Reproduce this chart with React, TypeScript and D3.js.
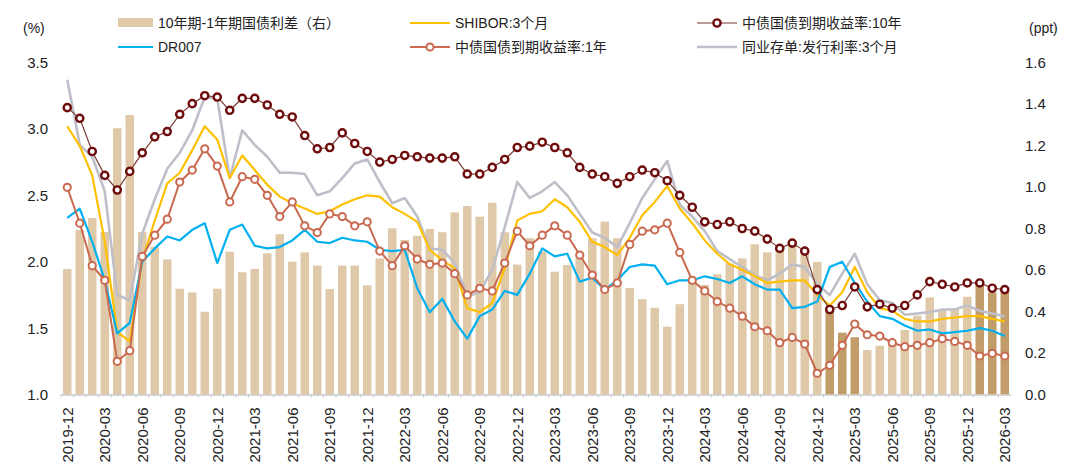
import * as d3 from 'd3';

const months = [
  '2019-12',
  '2020-01', '2020-02', '2020-03', '2020-04', '2020-05', '2020-06', '2020-07', '2020-08', '2020-09', '2020-10', '2020-11', '2020-12',
  '2021-01', '2021-02', '2021-03', '2021-04', '2021-05', '2021-06', '2021-07', '2021-08', '2021-09', '2021-10', '2021-11', '2021-12',
  '2022-01', '2022-02', '2022-03', '2022-04', '2022-05', '2022-06', '2022-07', '2022-08', '2022-09', '2022-10', '2022-11', '2022-12',
  '2023-01', '2023-02', '2023-03', '2023-04', '2023-05', '2023-06', '2023-07', '2023-08', '2023-09', '2023-10', '2023-11', '2023-12',
  '2024-01', '2024-02', '2024-03', '2024-04', '2024-05', '2024-06', '2024-07', '2024-08', '2024-09', '2024-10', '2024-11', '2024-12',
  '2025-01', '2025-02', '2025-03', '2025-04', '2025-05', '2025-06', '2025-07', '2025-08', '2025-09', '2025-10', '2025-11', '2025-12',
  '2026-01', '2026-02', '2026-03',
];

// 10年期-1年期国债利差（右）, ppt
const spread = [
  0.605,
  0.793, 0.851, 0.783, 1.283, 1.347, 0.783, 0.712, 0.651, 0.51, 0.492, 0.399, 0.51,
  0.688, 0.589, 0.605, 0.68, 0.772, 0.64, 0.685, 0.621, 0.508, 0.621, 0.621, 0.526,
  0.656, 0.801, 0.745, 0.765, 0.798, 0.782, 0.878, 0.908, 0.857, 0.924, 0.782, 0.626,
  0.753, 0.69, 0.592, 0.624, 0.66, 0.753, 0.833, 0.753, 0.513, 0.459, 0.418, 0.327,
  0.435, 0.544, 0.528, 0.579, 0.632, 0.656, 0.724, 0.685, 0.696, 0.72, 0.68, 0.639,
  0.407, 0.298, 0.276, 0.214, 0.235, 0.265, 0.311, 0.38, 0.468, 0.407, 0.415, 0.471,
  0.544, 0.491, 0.512,
];

const shibor3m = [
  3.02,
  2.87, 2.65, 2.15, 1.47, 1.4, 2.01, 2.31, 2.59, 2.67, 2.84, 3.02, 2.92,
  2.63, 2.8, 2.69, 2.58, 2.49, 2.44, 2.4, 2.36, 2.38, 2.43, 2.47, 2.5,
  2.49, 2.41, 2.36, 2.3, 2.09, 2.01, 1.95, 1.65, 1.62, 1.69, 1.95, 2.31,
  2.36, 2.38, 2.47, 2.41, 2.3, 2.15, 2.11, 2.05, 2.18, 2.35, 2.45, 2.57,
  2.4, 2.29, 2.16, 2.06, 1.98, 1.94, 1.89, 1.84, 1.85, 1.86, 1.86, 1.75,
  1.67, 1.77, 1.96, 1.77, 1.65, 1.63, 1.57, 1.55, 1.55, 1.57, 1.58, 1.59,
  1.59, 1.57, 1.55,
];

const dr007 = [
  2.33,
  2.4, 2.15, 1.86, 1.46, 1.54, 2.0, 2.1, 2.19, 2.16, 2.24, 2.29, 1.99,
  2.24, 2.28, 2.12, 2.1, 2.11, 2.16, 2.24, 2.15, 2.14, 2.18, 2.16, 2.15,
  2.09, 2.08, 2.09, 1.8, 1.62, 1.72, 1.55, 1.42, 1.59, 1.64, 1.78, 1.75,
  1.91, 2.1, 2.04, 2.06, 1.85, 1.88, 1.79, 1.86, 1.96, 1.98, 1.97, 1.83,
  1.86, 1.86, 1.89, 1.87, 1.84, 1.89, 1.83, 1.79, 1.79, 1.65, 1.66, 1.7,
  1.96, 2.0, 1.84, 1.7, 1.59, 1.57, 1.52, 1.48, 1.49, 1.46, 1.47, 1.48,
  1.5, 1.48, 1.44,
];

const cgb10y = [
  3.16,
  3.08, 2.83, 2.65, 2.54, 2.68, 2.82, 2.94, 2.98, 3.11, 3.19, 3.25, 3.24,
  3.14, 3.23, 3.23, 3.18, 3.11, 3.09, 2.95, 2.85, 2.86, 2.97, 2.89, 2.83,
  2.75, 2.77, 2.8, 2.79, 2.78, 2.78, 2.79, 2.66, 2.66, 2.71, 2.77, 2.86,
  2.87, 2.9, 2.86, 2.82, 2.71, 2.66, 2.64, 2.59, 2.64, 2.69, 2.67, 2.61,
  2.5, 2.41, 2.3, 2.28, 2.3, 2.25, 2.23, 2.17, 2.1, 2.14, 2.08, 1.79,
  1.64, 1.67, 1.81, 1.66, 1.68, 1.65, 1.67, 1.75, 1.85, 1.83, 1.81, 1.84,
  1.84, 1.8, 1.79,
];

const cgb1y = [
  2.56,
  2.29, 1.97, 1.86, 1.25, 1.33, 2.04, 2.2, 2.32, 2.6, 2.69, 2.85, 2.72,
  2.45, 2.64, 2.62, 2.5, 2.34, 2.45, 2.27, 2.22, 2.36, 2.34, 2.27, 2.3,
  2.08, 1.97, 2.12, 2.02, 1.98, 1.99, 1.91, 1.75, 1.8, 1.78, 1.99, 2.23,
  2.12, 2.2, 2.27, 2.2, 2.05, 1.9, 1.79, 1.84, 2.13, 2.23, 2.24, 2.29,
  2.07, 1.86, 1.78, 1.7, 1.65, 1.59, 1.51, 1.48, 1.39, 1.43, 1.38, 1.16,
  1.22, 1.37, 1.53, 1.45, 1.44, 1.39, 1.36, 1.37, 1.39, 1.42, 1.4, 1.37,
  1.29, 1.31, 1.29,
];

// 同业存单:发行利率:3个月
const ncd3m = [
  3.37,
  2.88, 2.79, 2.53, 1.75, 1.71, 2.21, 2.47, 2.7, 2.82, 2.99, 3.24, 3.23,
  2.63, 2.99, 2.88, 2.79, 2.67, 2.67, 2.66, 2.5, 2.53, 2.63, 2.74, 2.77,
  2.6, 2.44, 2.48, 2.34, 2.1, 2.09, 1.99, 1.74, 1.77, 1.94, 2.26, 2.6,
  2.48, 2.53, 2.6, 2.5, 2.36, 2.22, 2.18, 2.11, 2.29, 2.48, 2.62, 2.76,
  2.43, 2.34, 2.23, 2.08, 2.02, 1.96, 1.9, 1.86, 1.91, 1.98, 1.96, 1.83,
  1.75, 1.91, 2.06, 1.83, 1.71, 1.69, 1.6, 1.61, 1.62, 1.64, 1.64, 1.67,
  1.63, 1.61, 1.59,
];

const highlighted = ['2025-01', '2025-02', '2025-03', '2026-01', '2026-02', '2026-03'];
const leftTicks = [1.0, 1.5, 2.0, 2.5, 3.0, 3.5];
const rightTicks = [0, 0.2, 0.4, 0.6, 0.8, 1.0, 1.2, 1.4, 1.6];

const FONT = '"Liberation Sans", Arial, "Noto Sans CJK SC", sans-serif';

const App = () => {
  const width = 1080;
  const height = 473;
  const plot = { left: 61, right: 1011, top: 62.5, bottom: 394.5 };

  const x = d3
    .scaleBand<string>()
    .domain(months)
    .range([plot.left, plot.right])
    .paddingInner(0.32)
    .paddingOuter(0.16);
  const cx = (m: string) => (x(m) ?? 0) + x.bandwidth() / 2;
  const yL = d3.scaleLinear().domain([1, 3.5]).range([plot.bottom, plot.top]);
  const yR = d3.scaleLinear().domain([0, 1.6]).range([plot.bottom, plot.top]);

  const line = d3
    .line<number>()
    .x((_, i) => cx(months[i]))
    .y(d => yL(d));

  const plain = [
    { data: ncd3m, color: '#bfbfc9', w: 2.6 },
    { data: shibor3m, color: '#ffc000', w: 2.2 },
    { data: dr007, color: '#00b0f0', w: 2.2 },
  ];

  return (
    <svg
      width={width}
      height={height}
      style={{ position: 'absolute', left: 0, top: 0, background: '#fff' }}
      fontFamily={FONT}
    >
      {/* bars */}
      {months.map((m, i) => (
        <rect
          key={m}
          x={x(m)}
          y={yR(spread[i])}
          width={x.bandwidth()}
          height={plot.bottom - yR(spread[i])}
          fill={highlighted.includes(m) ? '#c29d69' : '#dfc9a8'}
        />
      ))}

      {/* baseline + ticks */}
      <line x1={plot.left} x2={plot.right} y1={plot.bottom + 0.5} y2={plot.bottom + 0.5} stroke="#c8c8c8" strokeWidth={1.5} />
      {months.map(m => (
        <line
          key={'t' + m}
          x1={(x(m) ?? 0) - (x.step() - x.bandwidth()) / 2}
          x2={(x(m) ?? 0) - (x.step() - x.bandwidth()) / 2}
          y1={plot.bottom}
          y2={plot.bottom + 3}
          stroke="#c8c8c8"
        />
      ))}

      {/* plain lines */}
      {plain.map(s => (
        <path key={s.color} d={line(s.data) ?? ''} fill="none" stroke={s.color} strokeWidth={s.w} strokeLinejoin="round" />
      ))}

      {/* 1Y */}
      <path d={line(cgb1y) ?? ''} fill="none" stroke="#c9694f" strokeWidth={2} />
      {cgb1y.map((v, i) => (
        <circle key={'a' + i} cx={cx(months[i])} cy={yL(v)} r={3.6} fill="#fff" stroke="#c9694f" strokeWidth={2} />
      ))}

      {/* 10Y */}
      <path d={line(cgb10y) ?? ''} fill="none" stroke="#7a3a33" strokeWidth={1.2} />
      {cgb10y.map((v, i) => (
        <circle key={'b' + i} cx={cx(months[i])} cy={yL(v)} r={3.6} fill="#fff" stroke="#6e0c0c" strokeWidth={2.4} />
      ))}

      {/* left axis */}
      {leftTicks.map(t => (
        <text key={'l' + t} x={48} y={yL(t)} dy="0.36em" textAnchor="end" fontSize={15} fill="#222">
          {t.toFixed(1)}
        </text>
      ))}
      {/* right axis */}
      {rightTicks.map(t => (
        <text key={'r' + t} x={1025} y={yR(t)} dy="0.36em" textAnchor="start" fontSize={15} fill="#222">
          {t.toFixed(1)}
        </text>
      ))}
      <text x={23} y={28} dy="0.36em" fontSize={14} fill="#222">(%)</text>
      <text x={1029} y={28} dy="0.36em" fontSize={14} fill="#222">(ppt)</text>

      {/* x labels */}
      {months.map((m, i) =>
        i % 3 === 0 ? (
          <text
            key={'x' + m}
            transform={`translate(${cx(m)},${plot.bottom + 13}) rotate(-90)`}
            dy="0.36em"
            textAnchor="end"
            fontSize={15}
            fill="#222"
          >
            {m}
          </text>
        ) : null
      )}

      {/* legend */}
      <g fontSize={14} fill="#222">
        <rect x={118} y={18} width={35} height={9} fill="#dfc9a8" />
        <text x={158} y={23} dy="0.36em">10年期-1年期国债利差（右）</text>

        <line x1={410} x2={450} y1={23} y2={23} stroke="#ffc000" strokeWidth={2.2} />
        <text x={455} y={23} dy="0.36em">SHIBOR:3个月</text>

        <line x1={697} x2={737} y1={23} y2={23} stroke="#7a3a33" strokeWidth={1.2} />
        <circle cx={717} cy={23} r={3.6} fill="#fff" stroke="#6e0c0c" strokeWidth={2.4} />
        <text x={742} y={23} dy="0.36em">中债国债到期收益率:10年</text>

        <line x1={118} x2={153} y1={47} y2={47} stroke="#00b0f0" strokeWidth={2.2} />
        <text x={158} y={47} dy="0.36em">DR007</text>

        <line x1={410} x2={450} y1={47} y2={47} stroke="#c9694f" strokeWidth={2} />
        <circle cx={430} cy={47} r={3.6} fill="#fff" stroke="#c9694f" strokeWidth={2} />
        <text x={455} y={47} dy="0.36em">中债国债到期收益率:1年</text>

        <line x1={697} x2={737} y1={47} y2={47} stroke="#bfbfc9" strokeWidth={2.6} />
        <text x={742} y={47} dy="0.36em">同业存单:发行利率:3个月</text>
      </g>
    </svg>
  );
};

export default App;
